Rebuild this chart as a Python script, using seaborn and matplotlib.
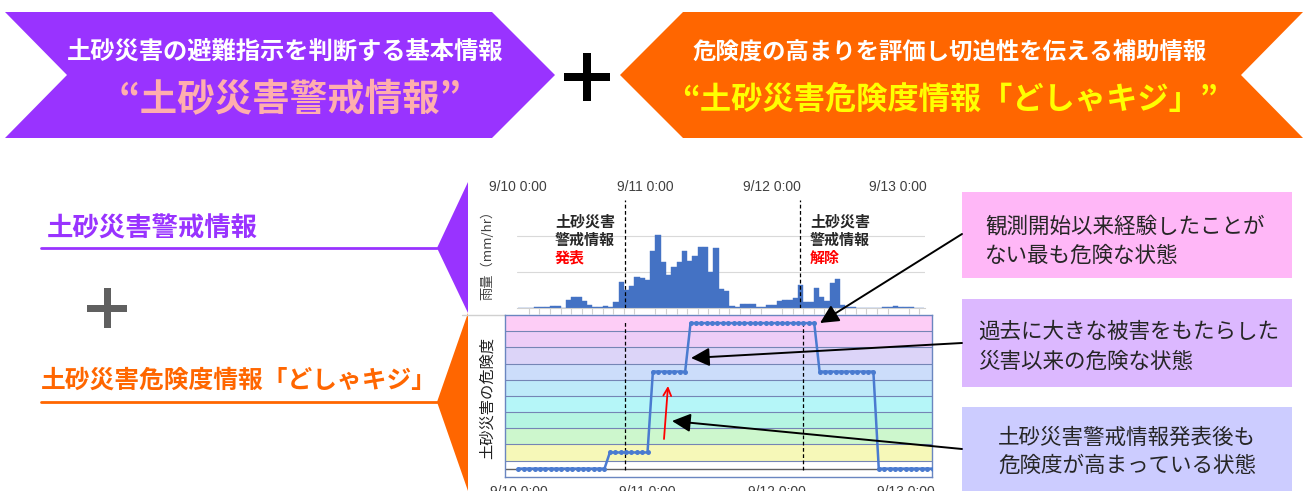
import numpy as np
import pandas as pd
import matplotlib
matplotlib.use("Agg")
import matplotlib.pyplot as plt
import seaborn as sns
from matplotlib.patches import Polygon, Rectangle

# ==========================================
# Data
# ==========================================

# hourly rainfall (mm/hr), hour 0 = 9/10 0:00
rain = [0, 0, 0, 0.3, 0.3, 0.3, 1.0, 1.0, 0, 4.4,
        5.7, 5.7, 3.4, 1.5, 0.3, 0.3, 0.8, 0.3, 2.8, 14.4,
        10.0, 11.8, 17.0, 16.3, 15.2, 31.5, 40.2, 25.2, 18.0, 22.7,
        25.2, 31.5, 25.8, 28.6, 34.0, 34.0, 19.9, 33.3, 10.6, 9.1,
        1.1, 0.3, 2.0, 2.0, 2.0, 0.3, 0.3, 1.5, 1.5, 3.8,
        4.4, 4.4, 5.3, 12.5, 3.0, 3.0, 11.0, 6.1, 3.4, 13.5,
        15.7, 1.5, 0.4, 0.4, 0, 0, 0, 0, 0, 0.3,
        0.3, 0.8, 0.3, 0.3, 0.3, 0, 0]

# danger level (band index, 0 = white ... 9 = top pink), hourly
danger = [0] * 17 + [1] * 8 + [6] * 7 + [9] * 24 + [6] * 11 + [0] * 11

alert_hours = [20.3, 53.4]          # 発表 / 解除
day_ticks = [0, 24, 48, 72]
day_labels = ["9/10 0:00", "9/11 0:00", "9/12 0:00", "9/13 0:00"]

band_colors = ["#FFFFFF", "#F6F8B8", "#CDF7CD", "#B5F5E2", "#B5F6F8",
               "#BEEAF9", "#CCDDFA", "#DCD4F8", "#EDCDF7", "#FDCDF6"]

box_texts = [
    "観測開始以来経験したことが\nない最も危険な状態",
    "過去に大きな被害をもたらした\n災害以来の危険な状態",
    "土砂災害警戒情報発表後も\n危険度が高まっている状態",
]
box_colors = ["#FFB7F7", "#DCB8FF", "#CCCCFF"]

df_rain = pd.DataFrame({"hour": np.arange(len(rain)) + 0.5, "rain": rain})
df_danger = pd.DataFrame({"hour": np.arange(len(danger)), "level": danger})

# ==========================================
# Figure setup
# ==========================================

sns.set_style("white")
plt.rcParams["font.family"] = ["Noto Sans CJK JP", "DejaVu Sans"]

W, H = 1303, 491
fig = plt.figure(figsize=(W / 100, H / 100), dpi=100)

def px_axes(left, top, right, bottom, z=1):
    return fig.add_axes([left / W, 1 - bottom / H, (right - left) / W, (bottom - top) / H], zorder=z)

bg = fig.add_axes([0, 0, 1, 1], zorder=0)
bg.set_xlim(0, W)
bg.set_ylim(H, 0)
bg.axis("off")

PURPLE = "#9933FF"
ORANGE = "#FF6600"

# top banners
bg.add_patch(Polygon([(5, 12), (492, 12), (555, 75), (492, 138), (5, 138), (67, 75)],
                     closed=True, color=PURPLE, lw=0))
bg.add_patch(Polygon([(620, 75), (683, 12), (1303, 12), (1241, 75), (1303, 138), (683, 138)],
                     closed=True, color=ORANGE, lw=0))

bg.text(285, 53, "土砂災害の避難指示を判断する基本情報", color="white", fontsize=17.5,
        fontweight="bold", ha="center", va="center")
bg.text(290, 100, "“土砂災害警戒情報”", color="#FFAEAE", fontsize=27,
        fontweight="bold", ha="center", va="center")
bg.text(950, 53, "危険度の高まりを評価し切迫性を伝える補助情報", color="white", fontsize=16.8,
        fontweight="bold", ha="center", va="center")
bg.text(950, 100, "“土砂災害危険度情報「どしゃキジ」”", color="#FFFF00", fontsize=22.5,
        fontweight="bold", ha="center", va="center")

# black plus between banners
bg.add_patch(Rectangle((564, 73), 46, 8, color="black", lw=0))
bg.add_patch(Rectangle((583, 53), 8, 48, color="black", lw=0))

# left side labels
bg.text(47, 229, "土砂災害警戒情報", color=PURPLE, fontsize=19, fontweight="bold",
        ha="left", va="center")
bg.plot([41, 437], [248, 248], color=PURPLE, lw=2)
bg.add_patch(Polygon([(468, 182), (437, 248), (468, 313)], closed=True, color=PURPLE, lw=0))

bg.add_patch(Rectangle((87, 305), 40, 7, color="#606060", lw=0))
bg.add_patch(Rectangle((104, 288), 7, 40, color="#606060", lw=0))

bg.text(41, 381, "土砂災害危険度情報「どしゃキジ」", color=ORANGE, fontsize=17.8, fontweight="bold",
        ha="left", va="center")
bg.plot([41, 437], [402, 402], color=ORANGE, lw=2)
bg.add_patch(Polygon([(468, 313), (437, 402), (468, 491)], closed=True, color=ORANGE, lw=0))
bg.plot([462, 505], [315, 315], color="#D0D0D0", lw=1)

# right side boxes
box_y = [(192, 278), (299, 387), (407, 495)]
for (y0, y1), c in zip(box_y, box_colors):
    bg.add_patch(Rectangle((962, y0), 330, y1 - y0, color=c, lw=0))
bg.text(985, 241, box_texts[0], fontsize=15.5, ha="left", va="center", linespacing=1.45)
bg.text(978, 347, box_texts[1], fontsize=15.5, ha="left", va="center", linespacing=1.45)
bg.text(1127, 452, box_texts[2], fontsize=15.5, ha="center", va="center", linespacing=1.35)

# ==========================================
# Rainfall chart
# ==========================================

ax1 = px_axes(517, 200, 925, 307.5, z=2)
ax1.set_facecolor("none")
sns.barplot(data=df_rain, x="hour", y="rain", native_scale=True, width=1,
            color="#4472C4", saturation=1, linewidth=0, errorbar=None, ax=ax1)
for p in ax1.patches:
    p.set_edgecolor("#4472C4")
    p.set_linewidth(0.3)
ax1.set_xlim(-0.25, 77.1)
ax1.set_ylim(0, 60)
for g in [20, 40]:
    ax1.axhline(g, color="#D9D9D9", lw=0.8, zorder=0)
for h in alert_hours:
    ax1.axvline(h, color="black", lw=0.9, ls=(0, (3, 2)), zorder=3)
for s in ["top", "left", "right"]:
    ax1.spines[s].set_visible(False)
ax1.spines["bottom"].set_color("#D0D0D0")
ax1.set_xticks(day_ticks)
ax1.set_xticklabels(day_labels)
ax1.set_xticks(np.arange(0, 78, 2), minor=True)
ax1.tick_params(axis="x", which="major", top=True, labeltop=True, bottom=False,
                labelbottom=False, length=0, pad=4, labelsize=10, labelcolor="#404040")
ax1.tick_params(axis="x", which="minor", bottom=True, top=False, length=4,
                color="#D0D0D0", width=0.8)
for lbl in ax1.get_xticklabels():
    lbl.set_fontfamily(["Liberation Sans", "DejaVu Sans"])
ax1.set_yticks([])
ax1.set_xlabel("")
ax1.set_ylabel("")

# ==========================================
# Danger level chart
# ==========================================

ax2 = px_axes(505, 315, 932, 476.7, z=2)
for i, c in enumerate(band_colors):
    ax2.axhspan(i - 0.5, i + 0.5, color=c, lw=0, zorder=0)
for i in range(len(band_colors) - 1):
    ax2.axhline(i + 0.5, color="#7585B5", lw=0.8, zorder=1)
ax2.axhline(0, color="#606060", lw=1, zorder=1)
for h in alert_hours:
    ax2.axvline(h - 0.5, ymin=0.04, ymax=0.97, color="black", lw=0.9,
                ls=(0, (3, 2)), zorder=2)
sns.lineplot(data=df_danger, x="hour", y="level", color="#4A7BD0", lw=1.8,
             marker="o", markersize=3.6, markeredgewidth=0, ax=ax2, zorder=3)
ax2.set_xlim(-2.5, 76.9)
ax2.set_ylim(-0.5, 9.5)
for s in ax2.spines.values():
    s.set_color("#6A86C0")
    s.set_linewidth(1)
ax2.set_xticks(day_ticks)
ax2.set_xticklabels(day_labels)
ax2.tick_params(axis="x", length=0, pad=6, labelsize=10, labelcolor="#404040")
for lbl in ax2.get_xticklabels():
    lbl.set_fontfamily(["Liberation Sans", "DejaVu Sans"])
ax2.set_yticks([])
ax2.set_xlabel("")
ax2.set_ylabel("")

# ==========================================
# Overlay: annotations and arrows
# ==========================================

ov = fig.add_axes([0, 0, 1, 1], zorder=10)
ov.set_xlim(0, W)
ov.set_ylim(H, 0)
ov.axis("off")
ov.patch.set_visible(False)

ov.text(488, 252, "雨量（mm/hr）", rotation=90, fontsize=9.5, color="#404040",
        ha="center", va="center")
ov.text(487, 398, "土砂災害の危険度", rotation=90, fontsize=11, color="#202020",
        ha="center", va="center")

for x0, word in [(555, "発表"), (810, "解除")]:
    ov.text(x0, 222, "土砂災害", fontsize=10.8, fontweight="bold", ha="left", va="center")
    ov.text(x0, 240, "警戒情報", fontsize=10.8, fontweight="bold", ha="left", va="center")
    ov.text(x0, 258, word, fontsize=10.8, fontweight="bold", color="red", ha="left", va="center")

arrow_kw = dict(arrowstyle="-|>", color="black", lw=1.4, mutation_scale=28,
                shrinkA=0, shrinkB=0)
ov.annotate("", xy=(820, 323), xytext=(962, 234), arrowprops=arrow_kw)
ov.annotate("", xy=(691, 358), xytext=(962, 343), arrowprops=arrow_kw)
ov.annotate("", xy=(672, 421), xytext=(962, 449), arrowprops=arrow_kw)
ov.annotate("", xy=(668, 386), xytext=(664, 439),
            arrowprops=dict(arrowstyle="->", color="red", lw=1.3, mutation_scale=14,
                            shrinkA=0, shrinkB=0))

fig.savefig("out.png", dpi=100)
